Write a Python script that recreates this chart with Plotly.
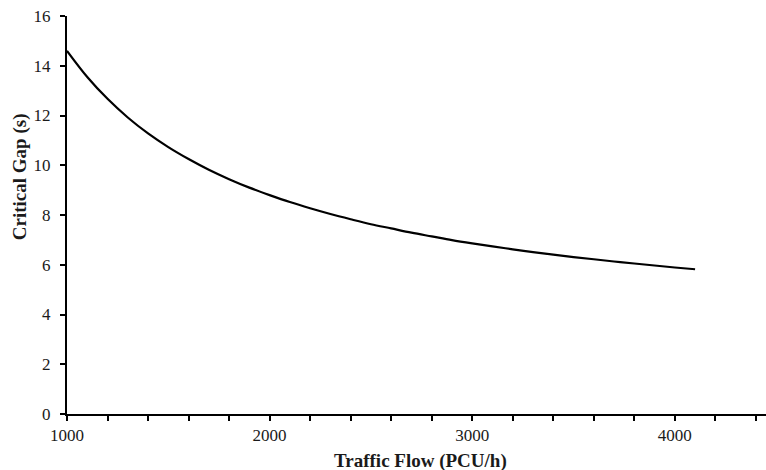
import plotly.graph_objects as go

traffic_flow = [1000, 1100, 1200, 1300, 1400, 1500, 1600, 1700, 1800, 1900,
                2000, 2100, 2200, 2300, 2400, 2500, 2600, 2700, 2800, 2900,
                3000, 3100, 3200, 3300, 3400, 3500, 3600, 3700, 3800, 3900,
                4000, 4100]
critical_gap = [14.60, 13.55, 12.67, 11.92, 11.28, 10.73, 10.25, 9.82, 9.44, 9.10,
                8.80, 8.52, 8.27, 8.04, 7.83, 7.63, 7.46, 7.29, 7.14, 6.99,
                6.86, 6.74, 6.62, 6.51, 6.41, 6.31, 6.22, 6.13, 6.05, 5.97,
                5.89, 5.82]
x_ticks = [1000, 2000, 3000, 4000]
y_ticks = [0, 2, 4, 6, 8, 10, 12, 14, 16]
x_title = "<b>Traffic Flow (PCU/h)</b>"
y_title = "<b>Critical Gap (s)</b>"

font_family = "Liberation Serif, Times New Roman, serif"
text_color = "#1a1a1a"

fig = go.Figure()
fig.add_trace(go.Scatter(x=traffic_flow, y=critical_gap, mode="lines",
                         line=dict(color="black", width=2.2, shape="spline"),
                         showlegend=False, hoverinfo="x+y"))

fig.update_layout(
    width=766, height=470,
    margin=dict(l=67, r=0, t=16, b=56, autoexpand=False),
    paper_bgcolor="white", plot_bgcolor="white",
    font=dict(family=font_family, size=17, color=text_color),
)
fig.update_xaxes(
    range=[1000, 4450], tickvals=x_ticks, ticktext=[str(v) for v in x_ticks],
    showline=True, linecolor="black", linewidth=2,
    ticks="outside", ticklen=5, tickwidth=2, tickcolor="black",
    minor=dict(dtick=200, tick0=1000, ticks="outside", ticklen=5, tickwidth=2, tickcolor="black"),
    showgrid=False, zeroline=False, automargin=False,
    tickfont=dict(family=font_family, size=17, color=text_color),
)
fig.update_yaxes(
    range=[0, 16], tickvals=y_ticks,
    showline=True, linecolor="black", linewidth=2,
    ticks="outside", ticklen=5, tickwidth=2, tickcolor="black",
    showgrid=False, zeroline=False, automargin=False,
    ticklabelstandoff=6,
    tickfont=dict(family=font_family, size=17, color=text_color),
)

fig.add_annotation(text=x_title, xref="paper", yref="paper", x=0.506, y=0,
                   yshift=-47, xanchor="center", yanchor="middle", showarrow=False,
                   font=dict(family=font_family, size=19, color=text_color))
fig.add_annotation(text=y_title, xref="paper", yref="paper", x=0, y=0.595,
                   xshift=-47, xanchor="center", yanchor="middle", textangle=-90,
                   showarrow=False,
                   font=dict(family=font_family, size=19, color=text_color))

fig.write_html("out.html", config={"displayModeBar": False},
               post_script="document.body.style.margin='0';document.body.style.overflow='hidden';")
